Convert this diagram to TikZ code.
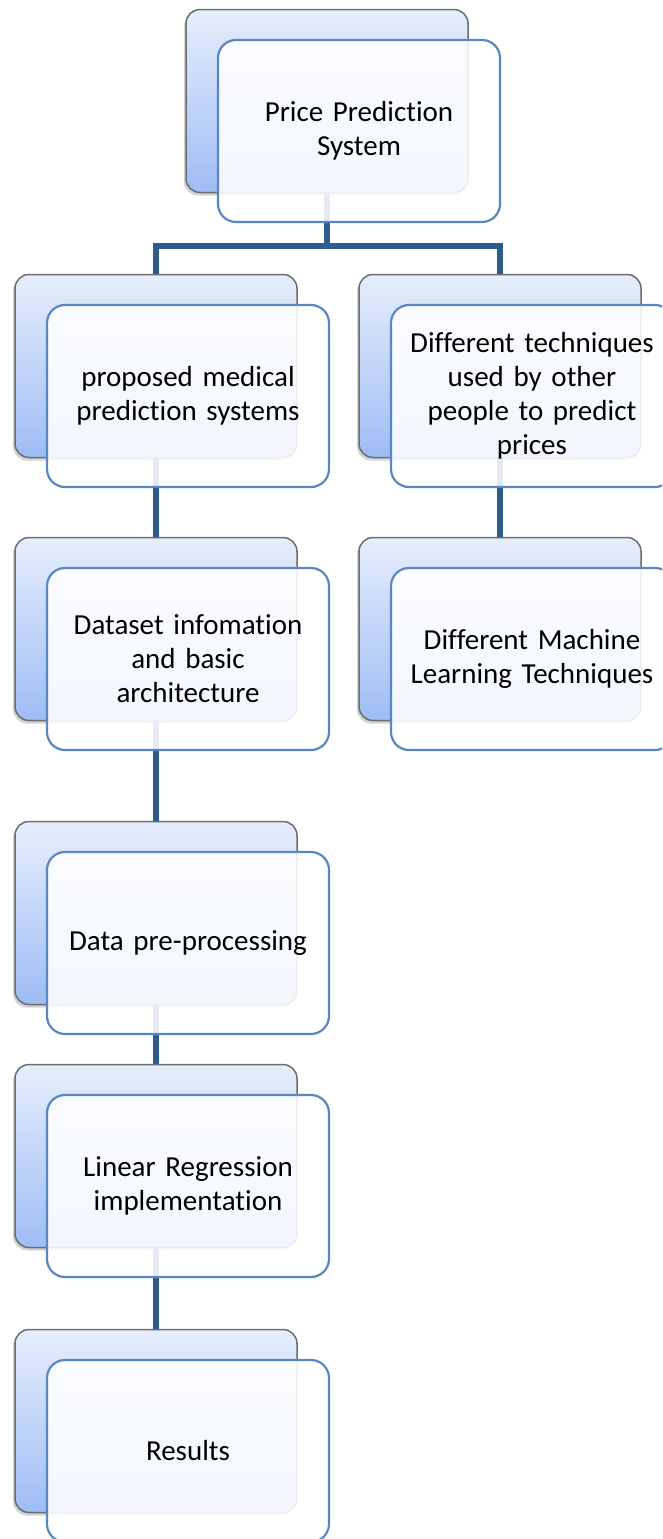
\documentclass[tikz,border=0pt]{standalone}
\usepackage{fontspec}
\setmainfont{Carlito}[Ligatures=NoCommon]
\usepackage{tikz}
\usetikzlibrary{positioning, calc, shadows}
\definecolor{ppblue}{RGB}{46, 92, 140}
\definecolor{ppedge}{RGB}{91, 135, 192}
\definecolor{pptop}{RGB}{230, 238, 252}
\definecolor{ppbottom}{RGB}{158, 189, 246}
\tikzset{
  backbox/.style={draw=gray!85!black, line width=1.5pt, rounded corners=14pt,
    minimum width=282pt, minimum height=183pt, top color=pptop, bottom color=ppbottom,
    drop shadow={shadow xshift=-2pt, shadow yshift=-3pt, opacity=0.35}},
  frontbox/.style={draw=ppedge, line width=2.2pt, rounded corners=18pt,
    minimum width=282pt, minimum height=182pt, fill=white, fill opacity=0.88,
    text opacity=1, text width=266pt, align=center, font=\fontsize{29}{34}\selectfont},
  link/.style={ppblue, line width=6pt}
}

\begin{document}
\begin{tikzpicture}[x=1pt, y=-1pt]
        \useasboundingbox (0,0) rectangle (662,1539);
        \clip (0,0) rectangle (662,1539);
        % back cards
        \node[backbox] (sysB) at (327,101) {};
        \node[backbox] (medB) at (156,366) {};
        \node[backbox] (techB) at (500,366) {};
        \node[backbox] (dataB) at (156,629) {};
        \node[backbox] (mlB) at (500,629) {};
        \node[backbox] (preB) at (156,913) {};
        \node[backbox] (linB) at (156,1156) {};
        \node[backbox] (resB) at (156,1421) {};
        % connectors
        \draw[link] (sysB.south) -- ++(0,53) coordinate (fork);
        \draw[link] (fork) -| (medB.north);
        \draw[link] (fork) -| (techB.north);
        \foreach \a/\b in {medB/dataB, dataB/preB, preB/linB, linB/resB, techB/mlB} {
            \draw[link] (\a.south) -- (\b.north);
        }
        % front cards
        \node[frontbox] (sys) at ($(sysB)+(32,30)$) {Price Prediction\\System};
        \node[frontbox] (med) at ($(medB)+(32,30)$) {proposed medical\\prediction systems};
        \node[frontbox] (tech) at ($(techB)+(32,30)$) {Different techniques\\used by other\\people to predict\\prices};
        \node[frontbox] (data) at ($(dataB)+(32,30)$) {Dataset infomation\\and basic\\architecture};
        \node[frontbox] (ml) at ($(mlB)+(32,30)$) {Different Machine\\Learning Techniques};
        \node[frontbox] (pre) at ($(preB)+(32,30)$) {Data pre-processing};
        \node[frontbox] (lin) at ($(linB)+(32,30)$) {Linear Regression\\implementation};
        \node[frontbox] (res) at ($(resB)+(32,30)$) {Results};
    \end{tikzpicture}
\end{document}
